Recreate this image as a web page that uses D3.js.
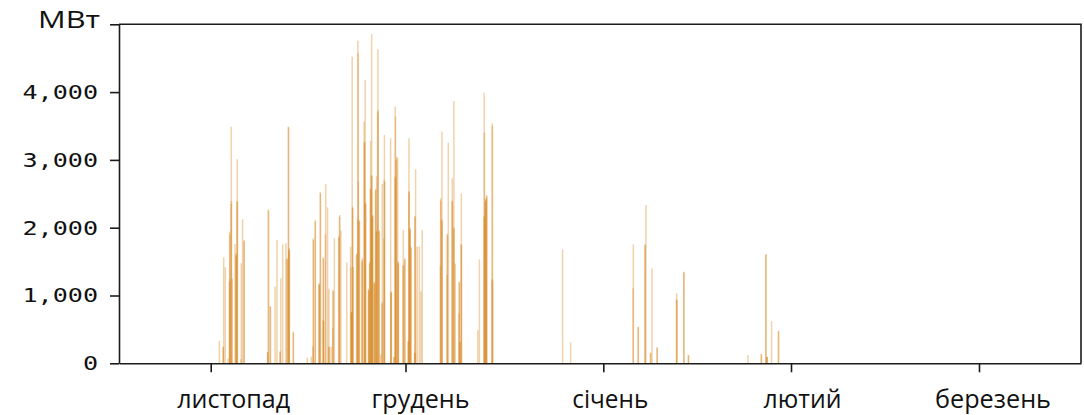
<!DOCTYPE html>
<html>
<head>
<meta charset="utf-8">
<script src="https://cdn.jsdelivr.net/npm/d3@7"></script>
<style>
  body { margin: 0; background: #fff; }
  svg { display: block; }
</style>
</head>
<body>
<svg id="chart" width="1084" height="415"></svg>
<script>
// hourly values (one line per day)
const stamps = [
  "2022-11-02T08", "2022-11-02T22", "2022-11-02T23",
  "2022-11-03T00", "2022-11-03T06", "2022-11-03T16", "2022-11-03T21", "2022-11-03T22", "2022-11-03T23",
  "2022-11-04T00", "2022-11-04T03", "2022-11-04T04", "2022-11-04T05", "2022-11-04T08", "2022-11-04T18", "2022-11-04T21", "2022-11-04T22", "2022-11-04T23",
  "2022-11-05T01", "2022-11-05T02", "2022-11-05T03", "2022-11-05T16", "2022-11-05T17", "2022-11-05T22",
  "2022-11-06T03", "2022-11-06T04",
  "2022-11-09T18", "2022-11-09T19", "2022-11-09T21", "2022-11-09T22",
  "2022-11-10T04", "2022-11-10T05", "2022-11-10T22",
  "2022-11-11T05", "2022-11-11T16", "2022-11-11T17", "2022-11-11T19",
  "2022-11-12T02", "2022-11-12T14", "2022-11-12T18", "2022-11-12T19", "2022-11-12T23",
  "2022-11-13T00", "2022-11-13T01", "2022-11-13T02", "2022-11-13T03", "2022-11-13T17", "2022-11-13T18",
  "2022-11-15T21",
  "2022-11-16T12", "2022-11-16T18", "2022-11-16T19", "2022-11-16T20",
  "2022-11-17T02", "2022-11-17T03", "2022-11-17T16", "2022-11-17T17", "2022-11-17T18", "2022-11-17T21", "2022-11-17T22",
  "2022-11-18T07", "2022-11-18T08", "2022-11-18T09", "2022-11-18T10", "2022-11-18T16", "2022-11-18T17",
  "2022-11-19T00", "2022-11-19T04", "2022-11-19T05", "2022-11-19T06", "2022-11-19T13", "2022-11-19T19", "2022-11-19T20", "2022-11-19T21",
  "2022-11-20T01", "2022-11-20T17", "2022-11-20T18", "2022-11-20T20", "2022-11-20T21",
  "2022-11-21T01", "2022-11-21T23",
  "2022-11-22T13", "2022-11-22T14", "2022-11-22T16", "2022-11-22T17", "2022-11-22T18", "2022-11-22T19", "2022-11-22T20", "2022-11-22T21", "2022-11-22T23",
  "2022-11-23T11", "2022-11-23T12", "2022-11-23T15", "2022-11-23T16", "2022-11-23T17", "2022-11-23T18", "2022-11-23T21", "2022-11-23T22",
  "2022-11-24T07", "2022-11-24T08", "2022-11-24T09", "2022-11-24T15", "2022-11-24T16", "2022-11-24T17", "2022-11-24T19", "2022-11-24T20", "2022-11-24T21",
  "2022-11-25T07", "2022-11-25T08", "2022-11-25T09", "2022-11-25T11", "2022-11-25T12", "2022-11-25T14", "2022-11-25T15", "2022-11-25T16", "2022-11-25T18", "2022-11-25T19", "2022-11-25T20", "2022-11-25T21", "2022-11-25T22", "2022-11-25T23",
  "2022-11-26T04", "2022-11-26T05", "2022-11-26T06", "2022-11-26T09", "2022-11-26T10", "2022-11-26T12", "2022-11-26T13", "2022-11-26T14", "2022-11-26T17", "2022-11-26T18", "2022-11-26T19", "2022-11-26T22", "2022-11-26T23",
  "2022-11-27T04", "2022-11-27T09", "2022-11-27T10", "2022-11-27T11", "2022-11-27T16", "2022-11-27T17", "2022-11-27T18", "2022-11-27T19",
  "2022-11-28T17", "2022-11-28T18", "2022-11-28T19", "2022-11-28T20",
  "2022-11-29T05", "2022-11-29T06", "2022-11-29T09", "2022-11-29T10", "2022-11-29T11", "2022-11-29T12", "2022-11-29T14", "2022-11-29T15", "2022-11-29T19", "2022-11-29T20", "2022-11-29T21", "2022-11-29T22",
  "2022-11-30T15", "2022-11-30T16", "2022-11-30T17", "2022-11-30T21", "2022-11-30T22",
  "2022-12-01T10", "2022-12-01T11", "2022-12-01T12", "2022-12-01T13", "2022-12-01T14", "2022-12-01T16", "2022-12-01T17", "2022-12-01T18", "2022-12-01T20", "2022-12-01T21",
  "2022-12-02T10", "2022-12-02T11", "2022-12-02T12", "2022-12-02T13", "2022-12-02T14", "2022-12-02T20",
  "2022-12-03T04", "2022-12-03T10", "2022-12-03T15",
  "2022-12-06T11", "2022-12-06T12", "2022-12-06T13", "2022-12-06T16", "2022-12-06T17", "2022-12-06T18",
  "2022-12-07T12", "2022-12-07T13", "2022-12-07T14", "2022-12-07T17",
  "2022-12-08T07", "2022-12-08T08", "2022-12-08T09", "2022-12-08T13", "2022-12-08T14", "2022-12-08T15", "2022-12-08T19",
  "2022-12-09T09", "2022-12-09T10", "2022-12-09T11", "2022-12-09T13", "2022-12-09T14", "2022-12-09T17", "2022-12-09T18", "2022-12-09T19",
  "2022-12-12T08", "2022-12-12T14",
  "2022-12-13T07", "2022-12-13T08", "2022-12-13T09", "2022-12-13T10", "2022-12-13T12", "2022-12-13T13", "2022-12-13T14", "2022-12-13T16", "2022-12-13T17", "2022-12-13T18",
  "2022-12-14T13", "2022-12-14T14", "2022-12-14T15", "2022-12-14T16",
  "2022-12-25T15",
  "2022-12-26T21",
  "2023-01-05T22", "2023-01-05T23",
  "2023-01-06T18", "2023-01-06T19",
  "2023-01-07T21", "2023-01-07T22",
  "2023-01-08T01", "2023-01-08T19", "2023-01-08T20",
  "2023-01-09T01", "2023-01-09T21", "2023-01-09T22",
  "2023-01-13T02", "2023-01-13T03", "2023-01-13T04",
  "2023-01-14T07", "2023-01-14T08",
  "2023-01-15T01", "2023-01-15T02",
  "2023-01-24T21",
  "2023-01-27T02", "2023-01-27T03", "2023-01-27T20", "2023-01-27T21",
  "2023-01-28T00", "2023-01-28T01", "2023-01-28T02", "2023-01-28T19",
  "2023-01-29T22", "2023-01-29T23"
];

const mw = [
  330, 245, 240,
  1563, 1416, 70, 1200, 1941, 1900,
  1239, 2350, 3490, 2394, 1250, 1760, 1580, 1622, 1600,
  2380, 3008, 2394, 60, 1475, 2124,
  1818, 1800,
  160, 170, 2271, 2250,
  845, 830, 1130,
  1818, 170, 175, 1253,
  1755, 1770, 1530, 1548, 3490,
  3480, 1650, 1696, 1680, 466, 450,
  80,
  100, 250, 1843, 1820,
  2090, 2113, 1150, 1180, 1170, 2530, 2500,
  640, 1560, 1540, 620, 1900, 2645,
  2300, 250, 1100, 240, 240, 516, 1081, 1060,
  1843, 1850, 1880, 2160, 2187,
  1960, 1489,
  1720, 1415, 750, 760, 740, 4522, 2310, 2290, 1420,
  1600, 1620, 2125, 4759, 4572, 2679, 2110, 2090,
  1500, 1550, 1530, 3563, 3268, 3250, 4178, 2370, 2350,
  1080, 1100, 1060, 1470, 1490, 2580, 3283, 2560, 2777, 4857, 2760, 2150, 2170, 2185,
  1180, 1200, 1170, 2550, 2570, 1940, 2760, 1960, 3700, 4631, 3736, 1940, 1960,
  130, 880, 2645, 900, 1843, 2704, 3367, 2680,
  3318, 1050, 1060, 1040,
  100, 90, 2752, 3785, 3637, 2730, 3000, 3047, 3030, 1470, 1500, 1480,
  1450, 1966, 1440, 1548, 1530,
  330, 320, 2520, 3318, 2540, 1980, 2000, 1960, 1700, 1720,
  156, 2150, 2172, 150, 2860, 1720,
  1720, 1060, 1966,
  1440, 2433, 2400, 2120, 3416, 2100,
  1300, 1910, 1890, 3254,
  2396, 2728, 2380, 1980, 3868, 2000, 1470,
  734, 1204, 1190, 310, 320, 1760, 2507, 1740,
  490, 1533,
  2170, 3990, 3400, 2150, 2380, 2420, 2400, 2440, 2480, 2460,
  1240, 3540, 3500, 1220,
  1681,
  310,
  1106, 1755,
  530, 540,
  1755, 1740,
  2335, 150, 156,
  1400, 230, 236,
  944, 1032, 930,
  1340, 1351,
  122, 120,
  122,
  137, 130, 1600, 1612,
  95, 98, 90, 624,
  470, 481
];

const monthStarts = ["2022-11-01", "2022-12-01", "2023-01-01", "2023-02-01", "2023-03-01"];
const monthNames = ["листопад", "грудень", "січень", "лютий", "березень"];
const yTicks = [0, 1000, 2000, 3000, 4000, 5000];
const unitLabel = "МВт";

const parseHour = d3.timeParse("%Y-%m-%dT%H");
const parseDay = d3.timeParse("%Y-%m-%d");

const svg = d3.select("#chart");
const plot = { left: 119, right: 1081, top: 24.3, bottom: 363.3 };
const ink = "#1c1c1c";

// the month ticks in the original are not evenly spaced, so the time scale is piecewise
const x = d3.scaleTime()
  .domain([parseHour("2022-10-17T21"), ...monthStarts.map(parseDay), parseHour("2023-03-16T04")])
  .range([plot.left, 210.7, 405.5, 603.3, 791, 979, plot.right]);

const y = d3.scaleLinear()
  .domain([0, 5000])
  .range([plot.bottom, plot.top]);

const bars = stamps.map((s, i) => ({ t: parseHour(s), v: mw[i] }));

// thin translucent bars, overlapping hours get darker
svg.append("g")
  .attr("class", "bars")
  .selectAll("rect")
  .data(bars)
  .join("rect")
  .attr("x", (d) => x(d.t) - 0.75)
  .attr("width", 1.5)
  .attr("y", (d) => y(d.v))
  .attr("height", (d) => y(0) - y(d.v))
  .attr("fill", "#d5811a")
  .attr("fill-opacity", 0.36);

// frame: top and right
svg.append("path")
  .attr("d", `M${plot.left},${plot.top}H${plot.right}V${plot.bottom}`)
  .attr("fill", "none")
  .attr("stroke", ink)
  .attr("stroke-width", 1.6);

const yAxis = svg.append("g")
  .attr("transform", `translate(${plot.left},0)`)
  .call(
    d3.axisLeft(y)
      .tickValues(yTicks)
      .tickSize(9)
      .tickSizeOuter(0)
      .tickPadding(12)
      .tickFormat((d) => (d === 5000 ? "" : d3.format(",")(d)))
  );

yAxis.selectAll("path, line").attr("stroke", ink).attr("stroke-width", 1.6);
yAxis.selectAll("text")
  .attr("fill", "#111")
  .style("font-family", "'DejaVu Sans Mono', monospace")
  .style("font-size", "20px")
  .each(function () {
    const n = this.textContent.length;
    if (n) d3.select(this).attr("textLength", n * 15.1).attr("lengthAdjust", "spacingAndGlyphs");
  });

const xAxis = svg.append("g")
  .attr("transform", `translate(0,${plot.bottom})`)
  .call(
    d3.axisBottom(x)
      .tickValues(monthStarts.map(parseDay))
      .tickSize(9)
      .tickSizeOuter(0)
      .tickFormat("")
  );

xAxis.selectAll("path, line").attr("stroke", ink).attr("stroke-width", 1.6);

// month names sit a little right of their ticks in the original
const labelShift = [23, 15, 7, 11.5, 14];
const labelWidth = [113, 98, 76, 78, 116];

svg.append("g")
  .selectAll("text")
  .data(monthNames)
  .join("text")
  .attr("x", (d, i) => x(parseDay(monthStarts[i])) + labelShift[i])
  .attr("y", 408)
  .attr("text-anchor", "middle")
  .attr("textLength", (d, i) => labelWidth[i])
  .attr("lengthAdjust", "spacingAndGlyphs")
  .style("font-family", "'Open Sans', sans-serif")
  .style("font-size", "25px")
  .attr("fill", "#111")
  .text((d) => d);

svg.append("text")
  .attr("x", 38)
  .attr("y", 28)
  .attr("textLength", 62)
  .attr("lengthAdjust", "spacingAndGlyphs")
  .style("font-family", "'Open Sans', sans-serif")
  .style("font-size", "23px")
  .attr("fill", "#111")
  .text(unitLabel);
</script>
</body>
</html>
